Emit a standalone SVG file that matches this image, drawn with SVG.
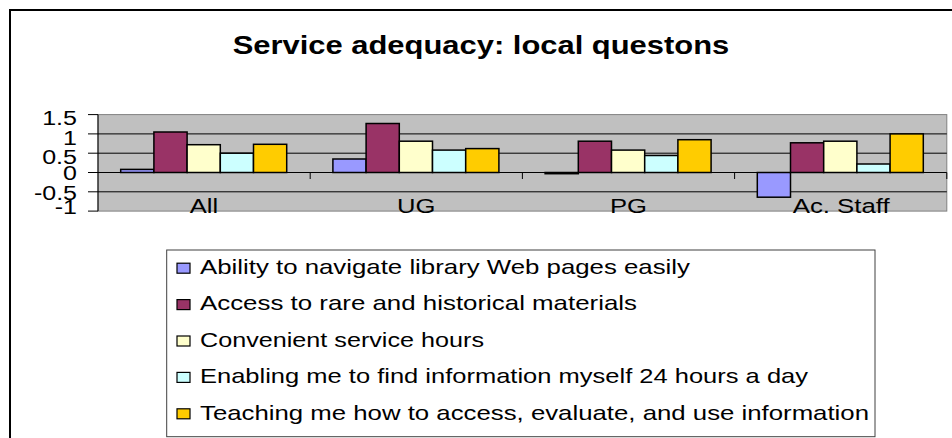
<svg xmlns="http://www.w3.org/2000/svg" width="952" height="438" viewBox="0 0 952 438">
<style>
text{font-family:"Liberation Sans",Arial,sans-serif;fill:#000}
.ax{font-size:20.5px}
.lg{font-size:21px}
.ttl{font-size:25px;font-weight:bold}
.bar{stroke:#000;stroke-width:1.5}
.s1{fill:#9999FF}.s2{fill:#993366}.s3{fill:#FFFFCC}.s4{fill:#CCFFFF}.s5{fill:#FFCC00}
.grid{stroke:#000;stroke-width:1}
.sw{stroke:#000;stroke-width:1.2}
</style>
<rect width="952" height="438" fill="#fff"/>
<path d="M10,438 V10 H952" fill="none" stroke="#000" stroke-width="2"/>
<g id="title">
<text class="ttl" x="232.7" y="53.5" textLength="496.6" lengthAdjust="spacingAndGlyphs">Service adequacy: local questons</text>
</g>
<g id="plot">
<rect x="98" y="114.6" width="848.8" height="96.5" fill="#C0C0C0" stroke="#808080" stroke-width="1"/>
<g class="grid">
<line x1="98" y1="133.9" x2="946.8" y2="133.9"/>
<line x1="98" y1="153.2" x2="946.8" y2="153.2"/>
<line x1="98" y1="172.5" x2="946.8" y2="172.5"/>
<line x1="98" y1="191.8" x2="946.8" y2="191.8"/>
<line x1="98" y1="114.6" x2="98" y2="211.1"/>
<line x1="88" y1="114.6" x2="98" y2="114.6"/>
<line x1="88" y1="133.9" x2="98" y2="133.9"/>
<line x1="88" y1="153.2" x2="98" y2="153.2"/>
<line x1="88" y1="172.5" x2="98" y2="172.5"/>
<line x1="88" y1="191.8" x2="98" y2="191.8"/>
<line x1="88" y1="211.1" x2="98" y2="211.1"/>
<line x1="310.2" y1="172.5" x2="310.2" y2="179"/>
<line x1="522.4" y1="172.5" x2="522.4" y2="179"/>
<line x1="734.6" y1="172.5" x2="734.6" y2="179"/>
<line x1="946.8" y1="172.5" x2="946.8" y2="179"/>
</g>
</g>
<g id="yaxis-labels" class="ax">
<text x="42.2" y="125" textLength="34.8" lengthAdjust="spacingAndGlyphs">1.5</text>
<text x="63.1" y="144.8" textLength="13.9" lengthAdjust="spacingAndGlyphs">1</text>
<text x="42.2" y="163.8" textLength="34.8" lengthAdjust="spacingAndGlyphs">0.5</text>
<text x="63.1" y="180" textLength="13.9" lengthAdjust="spacingAndGlyphs">0</text>
<text x="33.9" y="199.8" textLength="43.1" lengthAdjust="spacingAndGlyphs">-0.5</text>
<text x="54.8" y="214" textLength="22.2" lengthAdjust="spacingAndGlyphs">-1</text>
</g>
<g id="bars">
<g id="cat-all">
<rect class="bar s1" x="120.7" y="169.4" width="33.2" height="3.1"/>
<rect class="bar s2" x="153.9" y="132" width="33.2" height="40.5"/>
<rect class="bar s3" x="187.1" y="144.7" width="33.2" height="27.8"/>
<rect class="bar s4" x="220.3" y="153.2" width="33.2" height="19.3"/>
<rect class="bar s5" x="253.5" y="144.3" width="33.2" height="28.2"/>
</g>
<g id="cat-ug">
<rect class="bar s1" x="332.9" y="159" width="33.2" height="13.5"/>
<rect class="bar s2" x="366.1" y="123.5" width="33.2" height="49"/>
<rect class="bar s3" x="399.3" y="141.2" width="33.2" height="31.3"/>
<rect class="bar s4" x="432.5" y="150.1" width="33.2" height="22.4"/>
<rect class="bar s5" x="465.7" y="148.6" width="33.2" height="23.9"/>
</g>
<g id="cat-pg">
<rect class="bar s1" x="545.1" y="172.5" width="33.2" height="1.2"/>
<rect class="bar s2" x="578.3" y="141.2" width="33.2" height="31.3"/>
<rect class="bar s3" x="611.5" y="150.1" width="33.2" height="22.4"/>
<rect class="bar s4" x="644.7" y="155.5" width="33.2" height="17"/>
<rect class="bar s5" x="677.9" y="139.7" width="33.2" height="32.8"/>
</g>
<g id="cat-acstaff">
<rect class="bar s1" x="757.3" y="172.5" width="33.2" height="24.7"/>
<rect class="bar s2" x="790.5" y="142.8" width="33.2" height="29.7"/>
<rect class="bar s3" x="823.7" y="141.2" width="33.2" height="31.3"/>
<rect class="bar s4" x="856.9" y="164" width="33.2" height="8.5"/>
<rect class="bar s5" x="890.1" y="133.9" width="33.2" height="38.6"/>
</g>
</g>
<g id="xaxis-labels" class="ax">
<text x="189.8" y="213" textLength="28.4" lengthAdjust="spacingAndGlyphs">All</text>
<text x="397.1" y="213" textLength="38.4" lengthAdjust="spacingAndGlyphs">UG</text>
<text x="610" y="213" textLength="37" lengthAdjust="spacingAndGlyphs">PG</text>
<text x="792.7" y="213" textLength="97" lengthAdjust="spacingAndGlyphs">Ac. Staff</text>
</g>
<g id="legend">
<rect x="166.7" y="250" width="708.3" height="186.7" fill="#fff" stroke="#404040" stroke-width="1"/>
<g id="legend-1">
<rect class="sw s1" x="177" y="263.2" width="13" height="10"/>
<text class="lg" x="200" y="274" textLength="490" lengthAdjust="spacingAndGlyphs">Ability to navigate library Web pages easily</text>
</g>
<g id="legend-2">
<rect class="sw s2" x="177" y="299.6" width="13" height="10"/>
<text class="lg" x="200" y="310.4" textLength="437" lengthAdjust="spacingAndGlyphs">Access to rare and historical materials</text>
</g>
<g id="legend-3">
<rect class="sw s3" x="177" y="336" width="13" height="10"/>
<text class="lg" x="200" y="346.8" textLength="284" lengthAdjust="spacingAndGlyphs">Convenient service hours</text>
</g>
<g id="legend-4">
<rect class="sw s4" x="177" y="372.4" width="13" height="10"/>
<text class="lg" x="200" y="383.2" textLength="608" lengthAdjust="spacingAndGlyphs">Enabling me to find information myself 24 hours a day</text>
</g>
<g id="legend-5">
<rect class="sw s5" x="177" y="408.8" width="13" height="10"/>
<text class="lg" x="200" y="419.6" textLength="669" lengthAdjust="spacingAndGlyphs">Teaching me how to access, evaluate, and use information</text>
</g>
</g>
</svg>
